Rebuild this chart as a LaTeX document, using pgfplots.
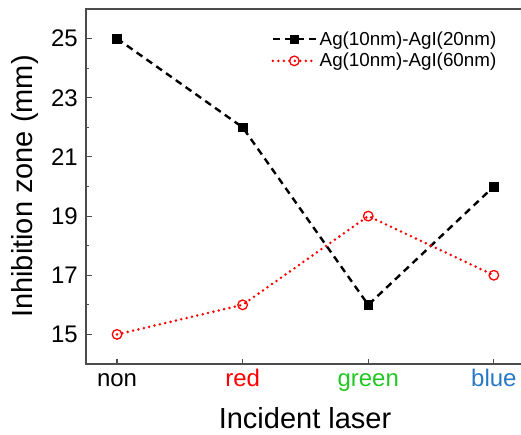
\documentclass[border=0pt]{standalone}
\usepackage{pgfplots}
\pgfplotsset{compat=1.18}
\usepackage{fontspec}
\setmainfont{Liberation Sans}
\definecolor{lgreen}{RGB}{34,200,34}
\definecolor{lblue}{RGB}{40,120,200}
\begin{document}
\begin{tikzpicture}
\begin{axis}[name=ax, scale only axis, width=438pt, height=355pt,
  xmin=-0.247, xmax=3.24, ymin=14, ymax=26,
  xtick={0,1,2,3},
  xticklabels={non,\textcolor{red}{red},\textcolor{lgreen}{green},\textcolor{lblue}{blue}},
  ytick={15,17,...,25}, minor ytick={16,18,...,26},
  tick pos=left, tick align=inside, major tick length=5.5pt, minor tick length=3.5pt,
  axis line style={black!70, line width=1.2pt}, tick style={black!70, line width=1.1pt},
  /pgf/number format/assume math mode=true,
  ticklabel style={font=\fontsize{24}{28}\selectfont},
  xticklabel style={anchor=base, yshift=-22pt},
  yticklabel style={anchor=east, inner sep=0pt, xshift=-8pt},
  xlabel={Incident laser}, ylabel={Inhibition zone (mm)},
  label style={font=\fontsize{29}{33}\selectfont},
  xlabel style={at={(axis description cs:0.5,-0.183)}, anchor=base, inner sep=0pt},
  ylabel style={at={(axis description cs:-0.1393,0.5)}, anchor=center},
  legend style={at={(1,1)}, anchor=north east, xshift=-25pt, yshift=-20pt, draw=none, fill=none,
    font=\fontsize{18.8}{21}\selectfont, row sep=1.5pt, inner sep=0pt, nodes={inner sep=2.5pt}},
  legend cell align=left,
  legend image code/.code={\draw[mark repeat=2, mark phase=2] plot coordinates {(0pt,0pt) (21.5pt,0pt) (43pt,0pt)};},
]
\addplot[black, line width=2.4pt, dash pattern=on 7pt off 5pt, mark=square*, mark size=4.3pt, mark options={solid, line width=0.5pt}]
  coordinates {(0,25) (1,22) (2,16) (3,20)};
\addlegendentry{Ag(10nm)-AgI(20nm)}
\addplot[red, line width=2.8pt, line cap=round, dash pattern=on 0pt off 5.5pt, mark=o, mark size=4.8pt,
  mark options={solid, fill=white, line width=1.3pt}]
  coordinates {(0,15) (1,16) (2,19) (3,17)};
\addlegendentry{Ag(10nm)-AgI(60nm)}
\end{axis}
\pgfresetboundingbox
\path ([xshift=-86pt,yshift=-70pt]ax.south west) rectangle ([xshift=435pt,yshift=9pt]ax.north west);
\end{tikzpicture}
\end{document}
